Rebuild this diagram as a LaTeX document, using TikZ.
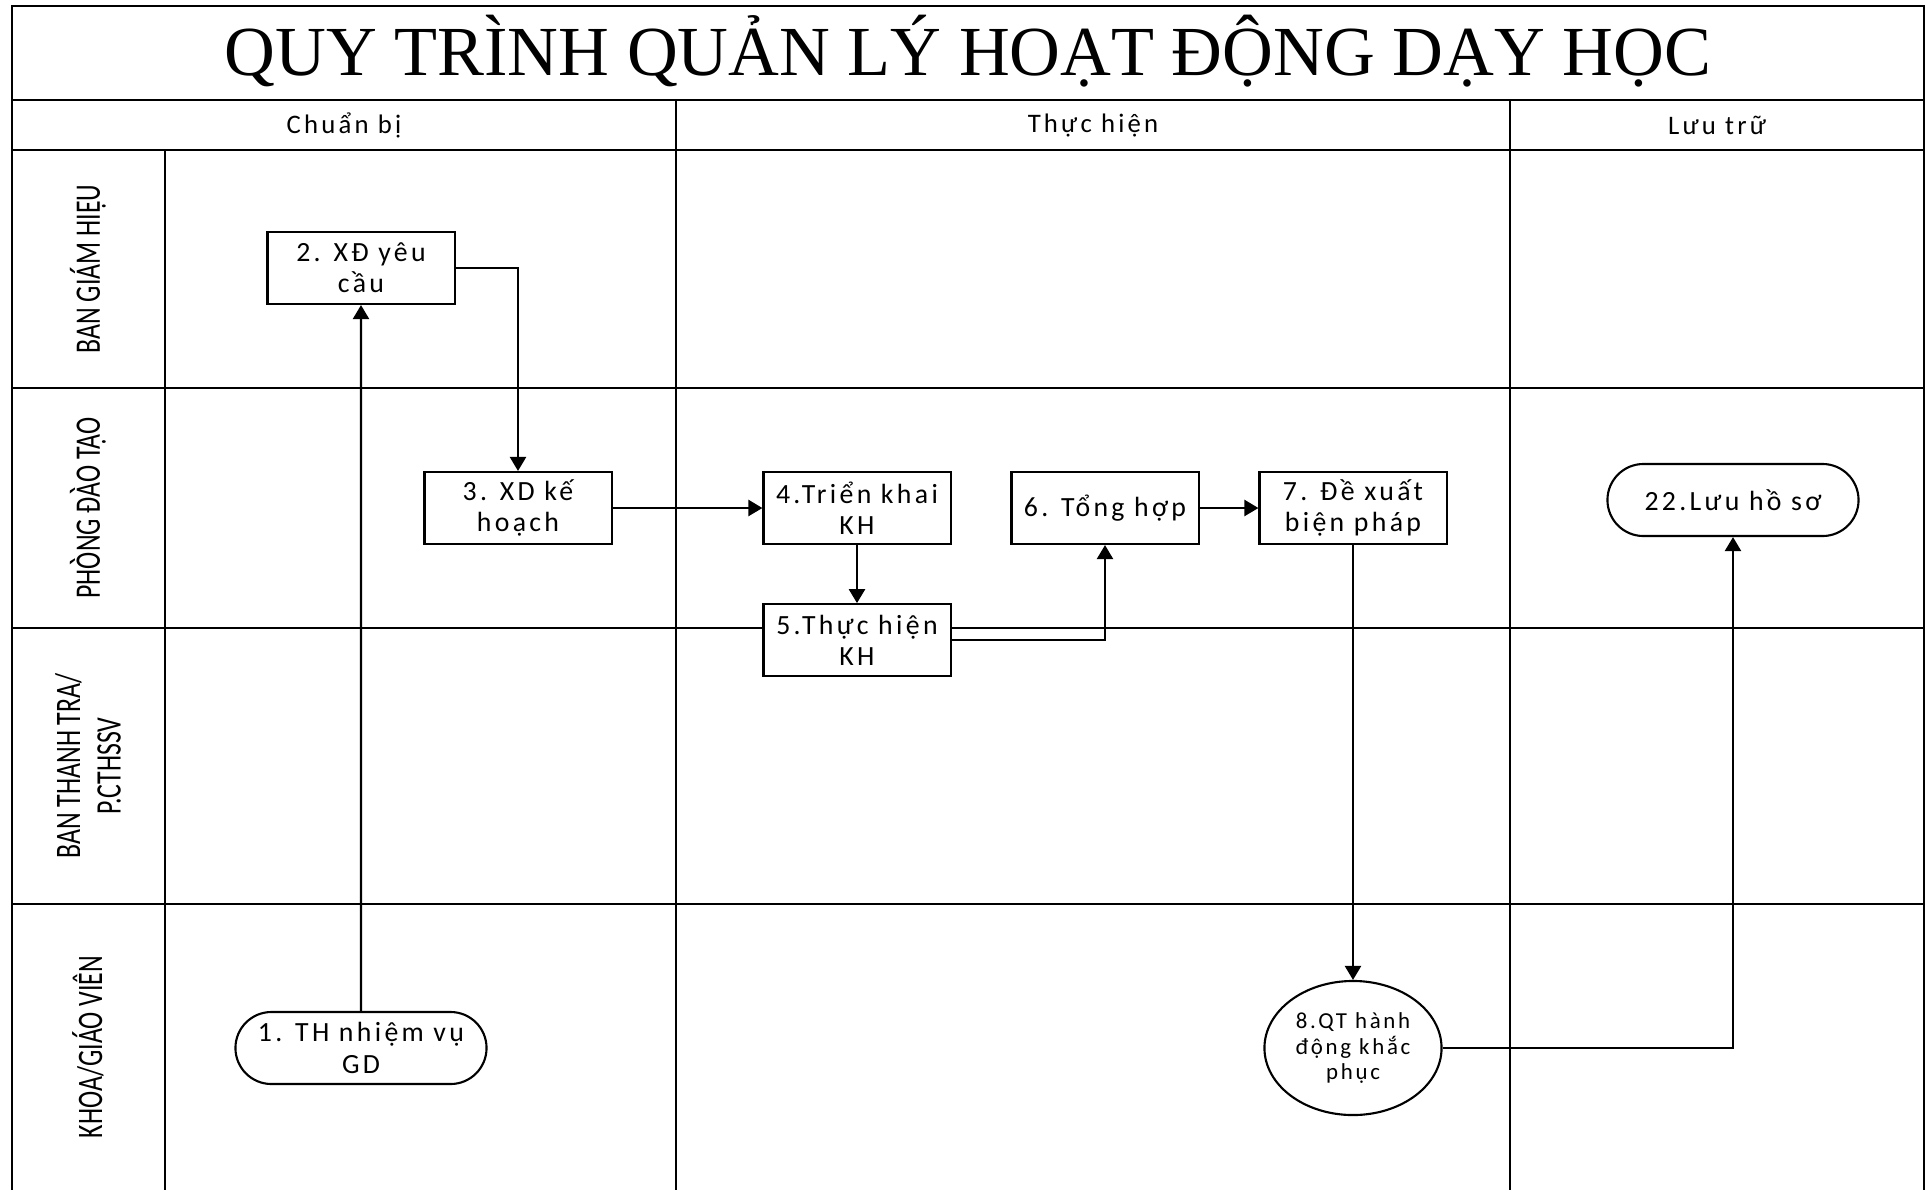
\documentclass[tikz,border=0pt]{standalone}
\usepackage{fontspec}
\usepackage{tikz}
\usetikzlibrary{positioning, arrows.meta, shapes.geometric, shapes.misc}
\newfontfamily\titlefont{Liberation Serif}
\newfontfamily\boxfont{Carlito}[LetterSpace=12]
\newfontfamily\lanefont{Carlito}[FakeStretch=0.72]

\begin{document}
\begin{tikzpicture}[
        x=0.01cm, y=-0.01cm,
        lane/.style={line width=0.7pt, black},
        lanelabel/.style={rotate=90, align=center, font=\lanefont\fontsize{10.2}{11.5}\selectfont},
        colhead/.style={font=\boxfont\fontsize{7.6}{9}\selectfont},
        box/.style={rectangle, draw, line width=0.6pt, fill=white, align=center,
                    minimum width=1.87cm, minimum height=0.72cm, inner sep=1pt,
                    font=\boxfont\fontsize{7.9}{8.9}\selectfont},
        terminal/.style={rounded rectangle, draw, line width=0.6pt, fill=white, align=center,
                    minimum width=2.58cm, minimum height=0.72cm, inner sep=1pt,
                    font=\boxfont\fontsize{7.9}{8.9}\selectfont},
        event/.style={ellipse, draw, line width=0.6pt, fill=white, align=center,
                    minimum width=1.77cm, minimum height=1.34cm, inner sep=0pt,
                    font=\boxfont\fontsize{6.5}{7.3}\selectfont},
        arrow/.style={-{Triangle[length=4pt, width=4.6pt]}, line width=0.6pt}
      ]
        \useasboundingbox (0,0) rectangle (1926,1190);

        % khung va cac lan
        \draw[lane] (12,1190) -- (12,6) -- (1924,6) -- (1924,1190);
        \draw[lane] (12,100) -- (1924,100);
        \draw[lane] (12,150) -- (1924,150);
        \draw[lane] (165,150) -- (165,1190);
        \foreach \x in {676, 1510}
          \draw[lane] (\x,100) -- (\x,1190);
        \foreach \y in {388, 628, 904}
          \draw[lane] (12,\y) -- (1924,\y);

        \node[font=\titlefont\fontsize{20}{24}\selectfont] (title) at (968,51) {QUY TRÌNH QUẢN LÝ HOẠT ĐỘNG DẠY HỌC};
        \node[colhead] (chuanbi) at (344,125) {Chuẩn bị};
        \node[colhead] (thuchien) at (1093,125) {Thực hiện};
        \node[colhead] (luutru) at (1717,125) {Lưu trữ};

        \node[lanelabel] (bgh) at (88,269) {BAN GIÁM HIỆU};
        \node[lanelabel] (pdt) at (88,508) {PHÒNG ĐÀO TẠO};
        \node[lanelabel] (btt) at (88,766) {BAN THANH TRA/\\P.CTHSSV};
        \node[lanelabel] (khoa) at (88,1047) {KHOA/GIÁO VIÊN};

        % cac buoc
        \node[terminal] (n1) at (361,1048) {1. TH nhiệm vụ\\GD};
        \node[box] (n2) at (361,268) {2. XĐ yêu\\cầu};
        \node[box] (n3) at (518,508) {3. XD kế\\hoạch};
        \node[box] (n4) at (857,508) {4.Triển khai\\KH};
        \node[box, below=0.58cm of n4] (n5) {5.Thực hiện\\KH};
        \node[box] (n6) at (1105,508) {6. Tổng hợp};
        \node[box] (n7) at (1353,508) {7. Đề xuất\\biện pháp};
        \node[event] (n8) at (n7 |- n1) {8.QT hành\\động khắc\\phục};
        \node[terminal] (n22) at (1733,500) {22.Lưu hồ sơ};

        \draw[arrow] (n1) -- (n2);
        \draw[arrow] (n2.east) -| (n3.north);
        \draw[arrow] (n3) -- (n4);
        \draw[arrow] (n4) -- (n5);
        \draw[arrow] (n5.east) -| (n6.south);
        \draw[arrow] (n6) -- (n7);
        \draw[arrow] (n7) -- (n8);
        \draw[arrow] (n8.east) -| (n22.south);
      \end{tikzpicture}
\end{document}
